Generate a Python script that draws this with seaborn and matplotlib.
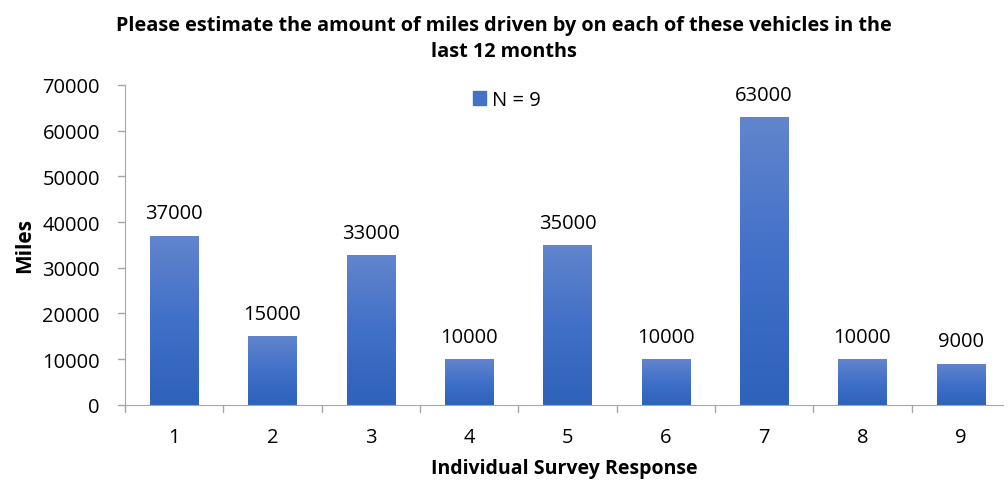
import numpy as np
import pandas as pd
import seaborn as sns
import matplotlib.pyplot as plt
from matplotlib.colors import LinearSegmentedColormap
from matplotlib.patches import Patch

# survey responses (bar heights) and the printed labels
responses = ["1", "2", "3", "4", "5", "6", "7", "8", "9"]
miles = [37000, 15000, 32700, 10000, 35000, 10000, 63000, 10000, 9000]
bar_labels = ["37000", "15000", "33000", "10000", "35000", "10000", "63000", "10000", "9000"]
yticks = [0, 10000, 20000, 30000, 40000, 50000, 60000, 70000]

df = pd.DataFrame({"response": responses, "miles": miles})

sns.set_style("white")
plt.rcParams['font.family'] = ['Open Sans', 'DejaVu Sans']
plt.rcParams['text.color'] = 'black'
plt.rcParams['axes.labelcolor'] = 'black'
plt.rcParams['xtick.color'] = 'black'
plt.rcParams['ytick.color'] = 'black'

fig = plt.figure(figsize=(10.08, 4.85), dpi=100)
ax = fig.add_axes([0.124, 0.163, 0.871, 0.660])

ax = sns.barplot(data=df, x="response", y="miles", color="#4472c4", width=0.49, ax=ax)

# gradient fill, lighter at the top of each bar like the Excel original
grad = LinearSegmentedColormap.from_list("g", ["#2e62bb", "#4170c8", "#6285cd"])
for p in ax.patches:
    x0, y0 = p.get_x(), p.get_y()
    w, h = p.get_width(), p.get_height()
    img = ax.imshow(np.linspace(0, 1, 256).reshape(-1, 1), cmap=grad, origin="lower",
                    extent=[x0, x0 + w, y0, y0 + h], aspect="auto", zorder=2)
    img.set_clip_path(p)
    p.set_facecolor("none")
    p.set_edgecolor("none")

for i, (v, lab) in enumerate(zip(miles, bar_labels)):
    ax.text(i, v + 2700, lab, ha="center", va="bottom", fontsize=14.5)

x_left, x_right = -0.5, 8.43
ax.set_xlim(x_left, x_right)
ax.set_ylim(0, 70000)
ax.set_yticks(yticks)
ax.set_yticklabels([str(t) for t in yticks], fontsize=14.5)
ax.set_xticks(range(9))
ax.set_xticklabels(responses, fontsize=14.5)
ax.tick_params(axis="x", length=0, pad=16)
ax.tick_params(axis="y", length=0, pad=18)

# excel style: short ticks on the y axis and category dividers on the x axis
for t in yticks:
    ax.plot([x_left - 0.07, x_left], [t, t], color="#a6a6a6", lw=1, clip_on=False)
for b in np.arange(-0.5, 9, 1):
    ax.plot([b, b], [0, -1500], color="#a6a6a6", lw=1, clip_on=False)

for s in ["top", "right"]:
    ax.spines[s].set_visible(False)
ax.spines["left"].set_color("#a6a6a6")
ax.spines["bottom"].set_color("#a6a6a6")

ax.set_xlabel("Individual Survey Response", fontsize=14, fontweight="bold", labelpad=8)
ax.set_ylabel("Miles", fontsize=15, fontweight="bold", labelpad=5)

fig.suptitle("Please estimate the amount of miles driven by on each of these vehicles in the\nlast 12 months",
             fontsize=14.3, fontweight="bold", x=0.5, y=0.968, linespacing=1.45)

ax.legend(handles=[Patch(color="#4472c4", label="N = 9")], loc="center",
          bbox_to_anchor=(0.503, 0.792), bbox_transform=fig.transFigure, frameon=False,
          fontsize=14.5, handlelength=0.65, handleheight=0.65, handletextpad=0.3)

fig.savefig("out.png", dpi=100)
